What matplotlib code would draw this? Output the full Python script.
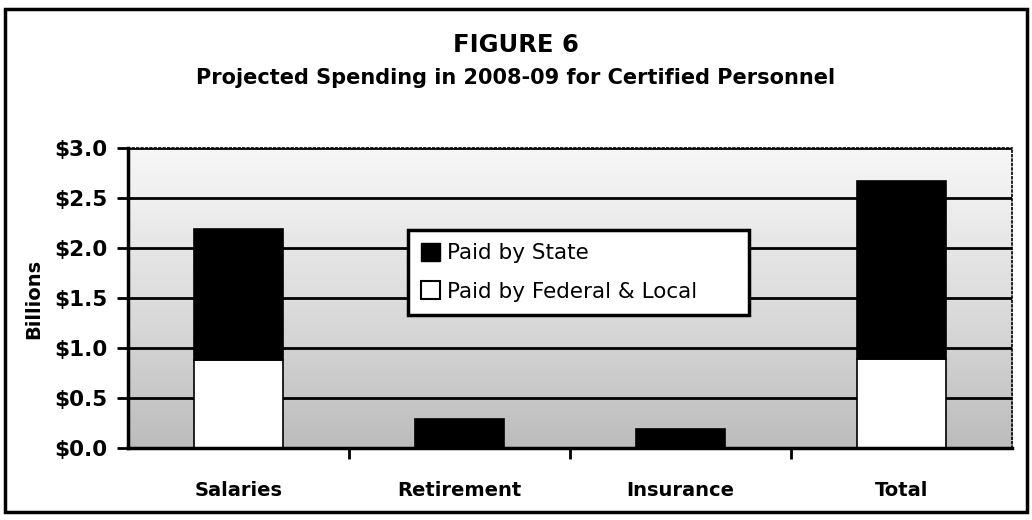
import numpy as np
import matplotlib
matplotlib.use('Agg')
import matplotlib.pyplot as plt
from matplotlib.patches import Rectangle, Patch

# values (billions of dollars)
categories = ['Salaries', 'Retirement', 'Insurance', 'Total']
fed_local = [0.88, 0.0, 0.0, 0.89]
state = [1.31, 0.29, 0.19, 1.78]
yticks = [0.0, 0.5, 1.0, 1.5, 2.0, 2.5, 3.0]
ytick_labels = ['$0.0', '$0.5', '$1.0', '$1.5', '$2.0', '$2.5', '$3.0']

plt.rcParams['font.family'] = ['DejaVu Sans']
plt.rcParams['font.weight'] = 'bold'

fig = plt.figure(figsize=(10.32, 5.2), dpi=100)
ax = fig.add_axes([0.124, 0.1385, 0.8566, 0.5769])

x = np.arange(len(categories))

# shaded background, lighter toward the top
grad = np.linspace(0.38, 0.08, 256).reshape(-1, 1)
ax.imshow(grad, cmap='Greys', vmin=0, vmax=1, aspect='auto',
          extent=(-0.5, 3.5, 0, 3.0), origin='lower', zorder=0)

ax.bar(x, fed_local, width=0.4, color='white', edgecolor='black', linewidth=1.2, zorder=2)
ax.bar(x, state, width=0.4, bottom=fed_local, color='black', edgecolor='black', linewidth=1.2, zorder=2)

ax.set_xlim(-0.5, 3.5)
ax.set_ylim(0, 3.0)
ax.set_yticks(yticks)
ax.set_yticklabels(ytick_labels, fontsize=15.5, fontweight='bold')
ax.set_xticks(x)
ax.set_xticklabels(categories, fontsize=14, fontweight='bold')
ax.set_xticks([0.5, 1.5, 2.5], minor=True)
ax.tick_params(axis='x', which='major', length=0, pad=24)
ax.tick_params(axis='x', which='minor', length=8, width=2, direction='out')
ax.tick_params(axis='y', length=8, width=2, direction='out', pad=7)

ax.set_axisbelow(True)
ax.yaxis.grid(True, color='black', linewidth=2)
ax.xaxis.grid(False)

for side in ['left', 'bottom']:
    ax.spines[side].set_linewidth(2.5)
for side in ['top', 'right']:
    ax.spines[side].set_linewidth(1.2)
    ax.spines[side].set_linestyle(':')

fig.text(0.033, 0.426, 'Billions', rotation=90, ha='center', va='center',
         fontsize=14, fontweight='bold')

handles = [Patch(facecolor='black', edgecolor='black', label='Paid by State'),
           Patch(facecolor='white', edgecolor='black', linewidth=1.5, label='Paid by Federal & Local')]
leg = ax.legend(handles=handles, loc='upper left', bbox_to_anchor=(0.317, 0.727, 0.386, 0.0),
                mode='expand', fontsize=15.5, frameon=True, fancybox=False, framealpha=1,
                edgecolor='black', handlelength=0.9, handleheight=0.9,
                handletextpad=0.3, labelspacing=0.85, borderpad=0.6, borderaxespad=0)
leg.get_frame().set_linewidth(2.5)
for t in leg.get_texts():
    t.set_fontweight('normal')

fig.text(0.5, 0.913, 'FIGURE 6', ha='center', va='center', fontsize=17.5, fontweight='bold')
fig.text(0.5, 0.85, 'Projected Spending in 2008-09 for Certified Personnel',
         ha='center', va='center', fontsize=15, fontweight='bold')

fig.patches.append(Rectangle((0.005, 0.015), 0.99, 0.968, transform=fig.transFigure,
                             fill=False, edgecolor='black', linewidth=2.5))

fig.savefig('out.png', dpi=100)
